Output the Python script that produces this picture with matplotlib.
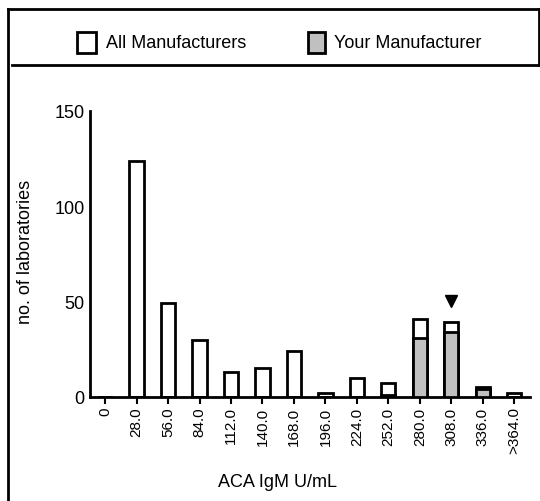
import numpy as np
import matplotlib
matplotlib.use("Agg")
import matplotlib.pyplot as plt
from matplotlib.patches import Rectangle
from matplotlib.lines import Line2D

plt.rcParams["font.family"] = ["Liberation Sans", "DejaVu Sans"]

bins = ["0", "28.0", "56.0", "84.0", "112.0", "140.0", "168.0", "196.0",
        "224.0", "252.0", "280.0", "308.0", "336.0", ">364.0"]
all_manuf = [0, 124, 49, 30, 13, 15, 24, 2, 10, 7, 41, 39, 5, 2]
your_manuf = [0, 0, 0, 0, 0, 0, 0, 0, 0, 1, 31, 34, 4, 0]
your_result_bin = "308.0"
your_result_y = 50

W, H = 540, 502
fig = plt.figure(figsize=(W / 100, H / 100), dpi=100)


def fx(px):
    return px / W


def fy(py):
    return 1 - py / H


ax = fig.add_axes([fx(90), fy(397.7), fx(530) - fx(90), fy(112) - fy(397.7)])

x = np.arange(len(bins))
ax.bar(x, all_manuf, width=0.45, color="white", edgecolor="black", linewidth=2, zorder=2)
ax.bar(x, your_manuf, width=0.45, color="#c0c0c0", edgecolor="black", linewidth=2, zorder=3)
ax.plot(bins.index(your_result_bin), your_result_y, marker="v", color="black",
        markersize=9, linestyle="none", zorder=4)

ax.set_xlim(-0.48, 13.5)
ax.set_ylim(0, 150)
ax.set_yticks([0, 50, 100, 150])
ax.tick_params(axis="y", length=0, labelsize=13, pad=4)
ax.set_xticks(x)
ax.set_xticklabels(bins, rotation=90, fontsize=11)
ax.tick_params(axis="x", length=5, width=1.5, labelsize=11, pad=2)
for s in ["top", "right"]:
    ax.spines[s].set_visible(False)
for s in ["left", "bottom"]:
    ax.spines[s].set_linewidth(2)

fig.text(fx(26), fy(252), "no. of laboratories", rotation=90, ha="center", va="center", fontsize=13)
fig.text(fx(277), fy(483), "ACA IgM U/mL", ha="center", va="center", fontsize=13)

# frame and legend area
fig.add_artist(Line2D([fx(8), fx(8)], [fy(10), 0], color="black", linewidth=2))
fig.add_artist(Line2D([fx(8), fx(539)], [fy(10), fy(10)], color="black", linewidth=2))
fig.add_artist(Line2D([fx(539), fx(539)], [fy(10), fy(66)], color="black", linewidth=2))
fig.add_artist(Line2D([fx(12), fx(539)], [fy(66), fy(66)], color="black", linewidth=2))

fig.add_artist(Rectangle((fx(77), fy(54)), fx(19), fy(33) - fy(54), facecolor="white",
                         edgecolor="black", linewidth=2))
fig.text(fx(106), fy(43.5), "All Manufacturers", ha="left", va="center", fontsize=13)
fig.add_artist(Rectangle((fx(308), fy(54)), fx(17), fy(33) - fy(54), facecolor="#c0c0c0",
                         edgecolor="black", linewidth=2))
fig.text(fx(334), fy(43.5), "Your Manufacturer", ha="left", va="center", fontsize=13)

fig.savefig("out.png", dpi=100)
